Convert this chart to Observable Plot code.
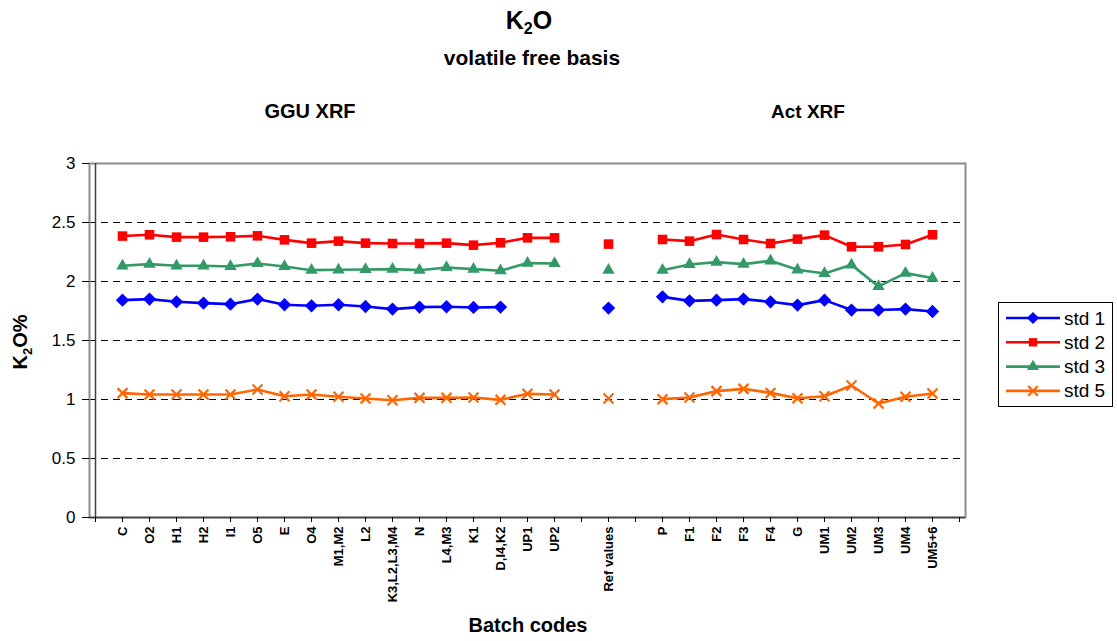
<!DOCTYPE html>
<html><head><meta charset="utf-8">
<script src="https://cdn.jsdelivr.net/npm/d3@7"></script>
<script src="https://cdn.jsdelivr.net/npm/@observablehq/plot@0.6"></script>
<style>
body{margin:0;background:#fff;}
#wrap{position:relative;width:1117px;height:641px;overflow:hidden;font-family:Arial,"Liberation Sans",sans-serif;}
#wrap > svg{position:absolute;left:0;top:0;}
#overlay{pointer-events:none;}
</style></head><body><div id="wrap"></div>
<script>
// Category slots (blank strings are empty slots on the category axis)
const categories = ["", "C","O2","H1","H2","I1","O5","E","O4","M1,M2","L2","K3,L2,L3,M4","N","L4,M3","K1","D,I4,K2","UP1","UP2",
  " ","Ref values","  ",
  "P","F1","F2","F3","F4","G","UM1","UM2","UM3","UM4","UM5+6","   "];
const seriesNames = ["std 1","std 2","std 3","std 5"];
const seriesColors = ["#0000FF","#FF0000","#339966","#FF6600"];
const std1 = [null, 1.842,1.851,1.828,1.817,1.808,1.851,1.803,1.794,1.803,1.788,1.766,1.783,1.786,1.780,1.783,null,null,
  null,1.775,null,
  1.870,1.836,1.842,1.851,1.828,1.800,1.842,1.758,1.758,1.766,1.746, null];
const std2 = [null, 2.385,2.396,2.376,2.376,2.379,2.387,2.353,2.325,2.342,2.325,2.322,2.322,2.325,2.308,2.328,2.370,2.370,
  null,2.317,null,
  2.356,2.342,2.398,2.356,2.322,2.359,2.393,2.294,2.294,2.314,2.396, null];
const std3 = [null, 2.133,2.147,2.133,2.133,2.127,2.153,2.127,2.096,2.099,2.102,2.105,2.096,2.119,2.105,2.091,2.156,2.153,
  null,2.096,null,
  2.096,2.144,2.164,2.147,2.175,2.099,2.068,2.141,1.958,2.071,2.029, null];
const std5 = [null, 1.054,1.042,1.042,1.042,1.042,1.085,1.028,1.042,1.023,1.008,0.994,1.014,1.014,1.017,0.997,1.048,1.042,
  null,1.008,null,
  1.003,1.017,1.071,1.090,1.056,1.011,1.028,1.119,0.966,1.023,1.051, null];
const yTicks = [0,0.5,1,1.5,2,2.5,3];
const yGrid = [0.5,1,1.5,2,2.5];

const seriesValues = [std1,std2,std3,std5];
const rows = seriesNames.flatMap((name,k) => categories.map((c,i) => ({cat:c, value:seriesValues[k][i], series:name})));
const of = name => rows.filter(d => d.series === name);

const chart = Plot.plot({
  width:1117, height:641,
  marginLeft:89, marginRight:152, marginTop:163, marginBottom:124,
  style:{fontFamily:"Arial, 'Liberation Sans', sans-serif", background:"transparent", overflow:"visible"},
  x:{type:"point", domain:categories, padding:0, axis:null},
  y:{domain:[0,3], axis:null},
  color:{domain:seriesNames, range:seriesColors},
  marks:[
    Plot.ruleY(yGrid, {stroke:"#000", strokeDasharray:"7,5", strokeWidth:1}),
    Plot.frame({stroke:"#8c8c8c", strokeWidth:2}),
    Plot.ruleX([categories[0]], {stroke:"#404040", strokeWidth:1.5}),
    Plot.ruleY([0], {stroke:"#404040", strokeWidth:1.5}),
    Plot.axisX({tickRotate:-90, tickSize:5, tickPadding:4, fontSize:13, fontWeight:"bold", label:null}),
    Plot.axisY({ticks:yTicks, tickSize:7, tickPadding:7, fontSize:17, tickFormat:d => String(d), label:null}),
    Plot.lineY(rows, {x:"cat", y:"value", z:"series", stroke:"series", strokeWidth:2.6}),
    Plot.dot(of("std 1"), {x:"cat", y:"value", symbol:"diamond2", fill:"series", r:6}),
    Plot.dot(of("std 2"), {x:"cat", y:"value", symbol:"square", fill:"series", r:5.4}),
    Plot.dot(of("std 3"), {x:"cat", y:"value", symbol:"triangle", fill:"series", r:4.6}),
    Plot.dot(of("std 5"), {x:"cat", y:"value", symbol:"times", stroke:"series", strokeWidth:2.2, r:4.6})
  ]
});
const wrap = document.getElementById("wrap");
wrap.appendChild(chart);

// Titles and legend overlay
const ov = d3.select(wrap).append("svg").attr("id","overlay").attr("width",1117).attr("height",641)
  .style("font-family","Arial, 'Liberation Sans', sans-serif");
const t1 = ov.append("text").attr("x",529).attr("y",29).attr("text-anchor","middle").attr("font-weight","bold").attr("font-size",25);
t1.append("tspan").text("K");
t1.append("tspan").attr("font-size",16).attr("dy",5).text("2");
t1.append("tspan").attr("dy",-5).text("O");
ov.append("text").attr("x",532).attr("y",65).attr("text-anchor","middle").attr("font-weight","bold").attr("font-size",21).text("volatile free basis");
ov.append("text").attr("x",310).attr("y",118).attr("text-anchor","middle").attr("font-weight","bold").attr("font-size",20).text("GGU XRF");
ov.append("text").attr("x",808).attr("y",118).attr("text-anchor","middle").attr("font-weight","bold").attr("font-size",19).text("Act XRF");
ov.append("text").attr("x",528).attr("y",632).attr("text-anchor","middle").attr("font-weight","bold").attr("font-size",20).text("Batch codes");
const yl = ov.append("text").attr("transform","translate(27,342) rotate(-90)").attr("text-anchor","middle").attr("font-weight","bold").attr("font-size",20);
yl.append("tspan").text("K");
yl.append("tspan").attr("font-size",13).attr("dy",5).text("2");
yl.append("tspan").attr("dy",-5).text("O%");

// Legend
const lg = ov.append("g");
lg.append("rect").attr("x",998.5).attr("y",302.5).attr("width",114).attr("height",104).attr("fill","#fff").attr("stroke","#000");
const sym = ["diamond2","square","triangle","times"];
const symFns = {diamond2:d3.symbolDiamond2, square:d3.symbolSquare, triangle:d3.symbolTriangle, times:d3.symbolTimes};
const symSize = [Math.PI*30, Math.PI*22, Math.PI*20, Math.PI*20];
seriesNames.forEach((name,i) => {
  const cy = 318 + i*24.3;
  lg.append("line").attr("x1",1006).attr("x2",1060).attr("y1",cy).attr("y2",cy).attr("stroke",seriesColors[i]).attr("stroke-width",2.6);
  const p = d3.symbol(symFns[sym[i]], symSize[i])();
  const s = lg.append("path").attr("d",p).attr("transform",`translate(1033,${cy})`);
  if (sym[i]==="times") s.attr("fill","none").attr("stroke",seriesColors[i]).attr("stroke-width",2.2);
  else s.attr("fill",seriesColors[i]);
  lg.append("text").attr("x",1064).attr("y",cy+6.5).attr("font-size",19).text(name);
});
</script>
</body></html>
